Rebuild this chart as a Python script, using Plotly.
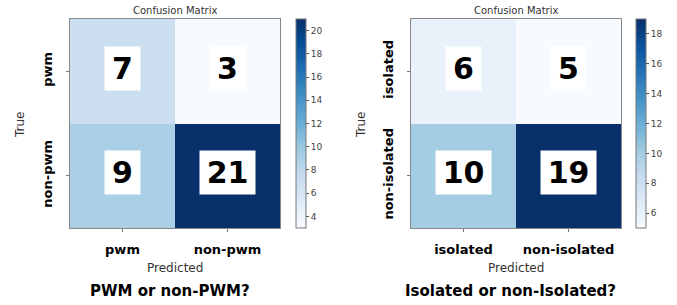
import plotly.graph_objects as go

W, H = 677, 305

labels_a = ["pwm", "non-pwm"]
values_a = [[7, 3], [9, 21]]
title_a = "PWM or non-PWM?"

labels_b = ["isolated", "non-isolated"]
values_b = [[6, 5], [10, 19]]
title_b = "Isolated or non-Isolated?"

blues = ["#f7fbff", "#deebf7", "#c6dbef", "#9ecae1", "#6baed6",
         "#4292c6", "#2171b5", "#08519c", "#08306b"]
cscale = [[i / 8, c] for i, c in enumerate(blues)]

FONT = "DejaVu Sans"

def px_x(p):
    return p / W

def px_y(p):
    return 1 - p / H

fig = go.Figure()
panels = [
    (labels_a, values_a, title_a, 70, 280, 296, 2, 4),
    (labels_b, values_b, title_b, 411, 621, 636, 2, 6),
]
annotations = []
for i, (labels, vals, ttl, x0, x1, cbx, dt, t0) in enumerate(panels):
    xa = "x" if i == 0 else "x2"
    ya = "y" if i == 0 else "y2"
    flat = [v for row in vals for v in row]
    fig.add_trace(go.Heatmap(
        z=vals, x=[0, 1], y=[0, 1], xaxis=xa, yaxis=ya,
        colorscale=cscale, zmin=min(flat), zmax=max(flat),
        xgap=0, ygap=0, hoverinfo="z",
        colorbar=dict(
            x=px_x(cbx), xanchor="left", xref="paper",
            y=px_y(228), yanchor="bottom", len=(228 - 19) / H,
            lenmode="fraction", thickness=10, thicknessmode="pixels",
            outlinewidth=1, outlinecolor="#777", xpad=0, ypad=0,
            tick0=t0, dtick=dt, ticks="outside", ticklen=3,
            tickcolor="#555", tickwidth=1,
            tickfont=dict(family=FONT, size=9, color="#444"),
        ),
    ))
    axn = "" if i == 0 else "2"
    fig.update_layout(**{
        "xaxis" + axn: dict(
            domain=[px_x(x0), px_x(x1)], range=[-0.5, 1.5],
            tickvals=[0, 1], ticktext=labels, anchor=ya,
            tickfont=dict(family=FONT, size=13, color="black", weight="bold"),
            ticks="outside", ticklen=3, tickcolor="#777",
            ticklabelstandoff=6,
            showline=True, linecolor="#888", linewidth=1, mirror=True,
            showgrid=False, zeroline=False, fixedrange=True,
        ),
        "yaxis" + axn: dict(
            domain=[px_y(228), px_y(19)], range=[1.5, -0.5],
            tickvals=[0, 1], ticktext=labels, anchor=xa,
            tickangle=-90,
            tickfont=dict(family=FONT, size=13, color="black", weight="bold"),
            ticks="outside", ticklen=3, tickcolor="#777",
            ticklabelstandoff=9,
            showline=True, linecolor="#888", linewidth=1, mirror=True,
            showgrid=False, zeroline=False, fixedrange=True,
        ),
    })
    for r in range(2):
        for c in range(2):
            txt = str(vals[r][c])
            annotations.append(dict(
                x=c, y=r, xref=xa, yref=ya, text=txt,
                showarrow=False, bgcolor="white", borderpad=0,
                width=20 * len(txt) + 15, height=43, yshift=3,
                xanchor="center", yanchor="middle",
                font=dict(family=FONT, size=30, color="black", weight="bold"),
            ))
    cx = (x0 + x1) / 2
    common = dict(xref="paper", yref="paper", showarrow=False,
                  xanchor="center", yanchor="middle")
    annotations += [
        dict(x=px_x(cx), y=px_y(10), text="Confusion Matrix",
             font=dict(family=FONT, size=10, color="#333"), **common),
        dict(x=px_x(cx), y=px_y(268), text="Predicted",
             font=dict(family=FONT, size=12, color="#333"), **common),
        dict(x=px_x(cx - 5), y=px_y(291), text=ttl,
             font=dict(family=FONT, size=15, color="black", weight="bold"),
             **common),
        dict(x=px_x(x0 - 50), y=px_y(125), text="True", textangle=-90,
             font=dict(family=FONT, size=12, color="#333"), **common),
    ]

fig.update_layout(
    width=W, height=H,
    margin=dict(l=0, r=0, t=0, b=0, pad=0, autoexpand=False),
    paper_bgcolor="white", plot_bgcolor="white",
    annotations=annotations, showlegend=False,
)
fig.write_html("out.html", config={"displayModeBar": False},
               post_script="document.body.style.margin='0';document.body.style.padding='0';")
